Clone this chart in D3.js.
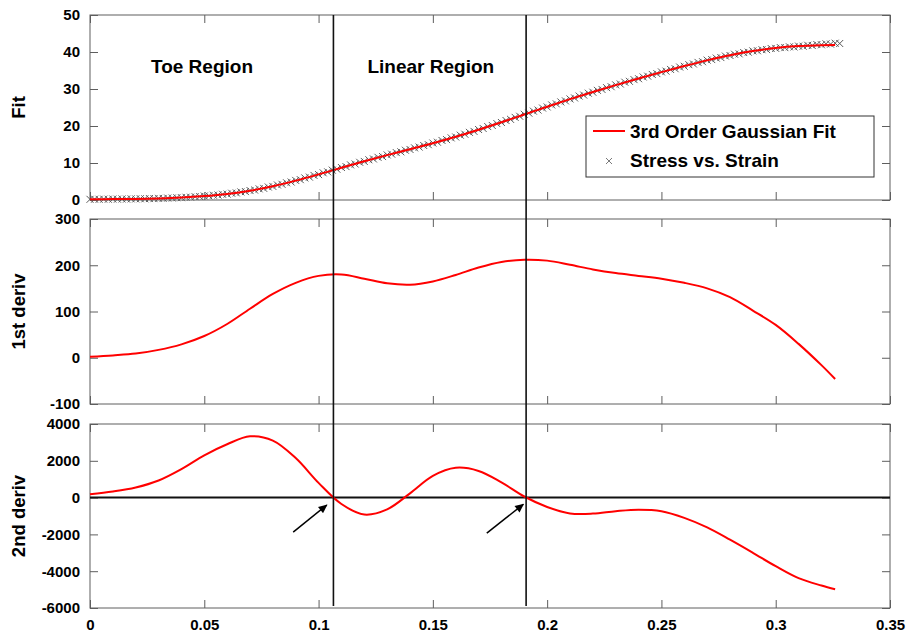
<!DOCTYPE html>
<html>
<head>
<meta charset="utf-8">
<script src="https://cdn.jsdelivr.net/npm/d3@7"></script>
<style>
  body { margin: 0; background: #fff; }
  svg { display: block; font-family: "Liberation Sans", Arial, sans-serif; font-weight: bold; }
</style>
</head>
<body>
<svg id="chart" width="907" height="635"></svg>
<script>
// fit curve and its derivatives, every 0.01 strain
const FIT_STRAIN = [0, 0.01, 0.02, 0.03, 0.04, 0.05, 0.06, 0.07, 0.08, 0.09,
  0.10, 0.11, 0.12, 0.13, 0.14, 0.15, 0.16, 0.17, 0.18, 0.19,
  0.20, 0.21, 0.22, 0.23, 0.24, 0.25, 0.26, 0.27, 0.28, 0.29,
  0.30, 0.31, 0.32, 0.326]
const FIT = [0.20, 0.24, 0.30, 0.42, 0.65, 1.05, 1.64, 2.51, 3.72, 5.23,
  6.93, 8.72, 10.47, 12.12, 13.71, 15.34, 17.09, 18.99, 21.01, 23.11,
  25.21, 27.25, 29.19, 31.05, 32.84, 34.56, 36.20, 37.74, 39.11, 40.25,
  41.10, 41.62, 41.85, 41.90]
const D1 = [2, 5, 9, 17, 29, 47, 73, 106, 138, 162,
  177, 180, 171, 161, 158, 165, 179, 195, 207, 212,
  210, 201, 191, 183, 177, 171, 162, 150, 131, 102,
  71, 30, -16, -46]
const D2 = [180, 330, 550, 930, 1550, 2300, 2900, 3330, 3100, 2150,
  800, -350, -920, -640, 230, 1180, 1620, 1450, 830, 60,
  -510, -860, -870, -740, -660, -740, -1100, -1620, -2290, -3000,
  -3730, -4380, -4780, -4980]

// measured stress, one sample every 0.002 strain
const STRAIN_STEP = 0.002
const STRESS = [
  0.18, 0.22, 0.19, 0.24, 0.21, 0.26, 0.23, 0.28, 0.25, 0.31,
  0.29, 0.34, 0.32, 0.39, 0.37, 0.44, 0.43, 0.52, 0.53, 0.62,
  0.63, 0.74, 0.76, 0.89, 0.93, 1.08, 1.12, 1.30, 1.35, 1.55,
  1.60, 1.83, 1.92, 2.18, 2.28, 2.56, 2.69, 3.01, 3.15, 3.51,
  3.67, 4.06, 4.24, 4.65, 4.86, 5.29, 5.50, 5.96, 6.18, 6.64,
  6.87, 7.35, 7.60, 8.07, 8.32, 8.78, 9.03, 9.49, 9.73, 10.19,
  10.42, 10.87, 11.09, 11.53, 11.74, 12.18, 12.39, 12.81, 13.02, 13.45,
  13.66, 14.09, 14.30, 14.73, 14.95, 15.40, 15.62, 16.09, 16.33, 16.79,
  17.03, 17.52, 17.78, 18.28, 18.54, 19.05, 19.33, 19.85, 20.14, 20.66,
  20.95, 21.49, 21.79, 22.33, 22.63, 23.17, 23.47, 24.01, 24.31, 24.85,
  25.15, 25.69, 25.98, 26.50, 26.79, 27.31, 27.58, 28.09, 28.36, 28.87,
  29.13, 29.63, 29.88, 30.37, 30.62, 31.11, 31.35, 31.83, 32.07, 32.54,
  32.78, 33.25, 33.47, 33.93, 34.16, 34.62, 34.83, 35.28, 35.48, 35.93,
  36.14, 36.57, 36.76, 37.19, 37.37, 37.80, 37.96, 38.35, 38.50, 38.90,
  39.05, 39.40, 39.50, 39.85, 39.95, 40.29, 40.34, 40.62, 40.66, 40.95,
  40.98, 41.20, 41.18, 41.40, 41.36, 41.60, 41.55, 41.82, 41.74, 42.02,
  41.95, 42.21, 42.12, 42.38, 42.30]

const X_TICKS = [0, 0.05, 0.1, 0.15, 0.2, 0.25, 0.3, 0.35]
const FIT_TICKS = [0, 10, 20, 30, 40, 50]
const D1_TICKS = [-100, 0, 100, 200, 300]
const D2_TICKS = [-6000, -4000, -2000, 0, 2000, 4000]

// inflection points (zero crossings of the 2nd derivative)
const REGION_BOUNDS = [0.1065, 0.1908]
const REGION_LABELS = [
  { text: "Toe Region", strain: 0.049, value: 34.3 },
  { text: "Linear Region", strain: 0.1491, value: 34.2 }
]
// arrows in 2nd-deriv panel: [tail strain, tail value, tip strain, tip value]
const ARROWS = [
  [0.0889, -1880, 0.1036, -400],
  [0.1736, -1935, 0.1896, -360]
]

const RED = "#ff0000"
const FRAME = "#5e5e5e"
const MARKER = "M-3.5,-3.5L3.5,3.5M-3.5,3.5L3.5,-3.5"

const svg = d3.select("#chart")
const x = d3.scaleLinear().domain([0, 0.35]).range([90, 890])

svg.append("defs").append("marker")
  .attr("id", "arrowhead")
  .attr("viewBox", "0 0 10 10")
  .attr("refX", 9).attr("refY", 5)
  .attr("markerWidth", 10).attr("markerHeight", 9)
  .attr("markerUnits", "userSpaceOnUse")
  .attr("orient", "auto")
  .append("path")
  .attr("d", "M0,0.5L10,5L0,9.5Z")
  .attr("fill", "#000")

const panels = [
  { top: 15, bottom: 200, domain: [0, 50], ticks: FIT_TICKS, label: "Fit" },
  { top: 219, bottom: 404, domain: [-100, 300], ticks: D1_TICKS, label: "1st deriv" },
  { top: 424, bottom: 608, domain: [-6000, 4000], ticks: D2_TICKS, label: "2nd deriv" }
]

function styleAxis(g, showLabels) {
  g.select(".domain").remove()
  g.selectAll(".tick line").attr("stroke", FRAME)
  g.selectAll(".tick text")
    .attr("fill", "#000")
    .attr("font-size", 15)
    .attr("font-weight", "bold")
    .attr("font-family", "'Liberation Sans', Arial, sans-serif")
  if (!showLabels) g.selectAll(".tick text").remove()
}

panels.forEach((p, i) => {
  p.y = d3.scaleLinear().domain(p.domain).range([p.bottom, p.top])
  const g = svg.append("g")
  const last = i === panels.length - 1

  g.append("g").attr("transform", "translate(90,0)")
    .call(d3.axisLeft(p.y).tickValues(p.ticks).tickSize(-8).tickPadding(10).tickFormat(String))
    .call(styleAxis, true)
  g.append("g").attr("transform", "translate(890,0)")
    .call(d3.axisRight(p.y).tickValues(p.ticks).tickSize(-8))
    .call(styleAxis, false)
  g.append("g").attr("transform", `translate(0,${p.top})`)
    .call(d3.axisTop(x).tickValues(X_TICKS).tickSize(-8))
    .call(styleAxis, false)
  g.append("g").attr("transform", `translate(0,${p.bottom})`)
    .call(d3.axisBottom(x).tickValues(X_TICKS).tickSize(-8).tickPadding(11).tickFormat(String))
    .call(styleAxis, last)

  g.append("rect")
    .attr("x", 90).attr("y", p.top)
    .attr("width", 800).attr("height", p.bottom - p.top)
    .attr("fill", "none").attr("stroke", FRAME).attr("stroke-width", 1)

  svg.append("text")
    .attr("transform", `translate(25,${(p.top + p.bottom) / 2}) rotate(-90)`)
    .attr("text-anchor", "middle")
    .attr("font-size", 18.5)
    .attr("fill", "#000")
    .text(p.label)
})

const [pFit, pD1, pD2] = panels

// stress vs strain markers
const strain = STRESS.map((_, i) => i * STRAIN_STEP)
svg.append("g").selectAll("path")
  .data(STRESS)
  .join("path")
  .attr("transform", (d, i) => `translate(${x(strain[i])},${pFit.y(d)})`)
  .attr("d", MARKER)
  .attr("stroke", "#5a5a5a")
  .attr("stroke-width", 1)
  .attr("fill", "none")

function drawCurve(p, values, width) {
  const line = d3.line()
    .x((d, i) => x(FIT_STRAIN[i]))
    .y(d => p.y(d))
    .curve(d3.curveCatmullRom.alpha(0.5))
  svg.append("path")
    .attr("d", line(values))
    .attr("fill", "none")
    .attr("stroke", RED)
    .attr("stroke-width", width)
}

// zero line in 2nd deriv panel
svg.append("line")
  .attr("x1", x(0)).attr("x2", x(0.35))
  .attr("y1", pD2.y(0)).attr("y2", pD2.y(0))
  .attr("stroke", "#111").attr("stroke-width", 2)

drawCurve(pFit, FIT, 2)
drawCurve(pD1, D1, 2)
drawCurve(pD2, D2, 2)

// region boundaries through all three panels
svg.append("g").selectAll("line")
  .data(REGION_BOUNDS)
  .join("line")
  .attr("x1", d => x(d)).attr("x2", d => x(d))
  .attr("y1", pFit.top).attr("y2", pD2.bottom - 2)
  .attr("stroke", "#111").attr("stroke-width", 1.6)

svg.append("g").selectAll("text")
  .data(REGION_LABELS)
  .join("text")
  .attr("x", d => x(d.strain))
  .attr("y", d => pFit.y(d.value))
  .attr("text-anchor", "middle")
  .attr("font-size", 19)
  .attr("fill", "#000")
  .text(d => d.text)

svg.append("g").selectAll("line")
  .data(ARROWS)
  .join("line")
  .attr("x1", d => x(d[0])).attr("y1", d => pD2.y(d[1]))
  .attr("x2", d => x(d[2])).attr("y2", d => pD2.y(d[3]))
  .attr("stroke", "#000").attr("stroke-width", 1.5)
  .attr("marker-end", "url(#arrowhead)")

// legend
const legend = svg.append("g").attr("transform", "translate(586,116)")
legend.append("rect")
  .attr("width", 288).attr("height", 61)
  .attr("fill", "#fff").attr("stroke", "#333").attr("stroke-width", 1)
legend.append("line")
  .attr("x1", 7).attr("x2", 39).attr("y1", 15).attr("y2", 15)
  .attr("stroke", RED).attr("stroke-width", 2)
legend.append("path")
  .attr("transform", "translate(23,45)")
  .attr("d", "M-3,-3L3,3M-3,3L3,-3")
  .attr("stroke", "#6b6b6b").attr("stroke-width", 0.9)
legend.append("text").attr("x", 44).attr("y", 22)
  .attr("font-size", 19).attr("fill", "#000").text("3rd Order Gaussian Fit")
legend.append("text").attr("x", 44).attr("y", 51)
  .attr("font-size", 19).attr("fill", "#000").text("Stress vs. Strain")
</script>
</body>
</html>
